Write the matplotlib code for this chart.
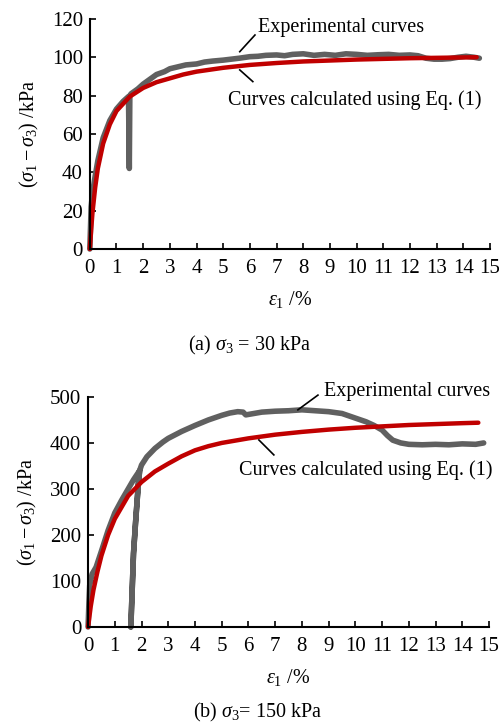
import matplotlib
matplotlib.use("Agg")
import matplotlib.pyplot as plt

plt.rcParams['font.family'] = ['Liberation Serif', 'DejaVu Serif']
plt.rcParams['mathtext.fontset'] = 'custom'
plt.rcParams['mathtext.rm'] = 'Liberation Serif'
plt.rcParams['mathtext.it'] = 'Liberation Serif:italic'

# ---- Panel (a): sigma3 = 30 kPa ----
a_exp_x = [0, 0.05, 0.1, 0.2, 0.3, 0.5, 0.75, 1.0, 1.25, 1.45, 1.48, 1.5, 1.55, 1.8, 2.0, 2.2,
           2.5, 2.8, 3.0, 3.3, 3.6, 4.0, 4.3, 4.6, 5.0, 5.3, 5.6, 6.0, 6.3, 6.6, 7.0, 7.3,
           7.6, 8.0, 8.4, 8.8, 9.2, 9.6, 10.0, 10.4, 10.8, 11.2, 11.6, 12.0, 12.3, 12.6,
           12.9, 13.2, 13.5, 13.8, 14.1, 14.4, 14.6]
a_exp_y = [0, 22, 29, 38, 46, 58, 67, 73, 77, 79.5, 42, 80, 81, 83.5, 86, 88,
           91, 92.5, 94, 95, 96, 96.5, 97.5, 98, 98.5, 99, 99.5, 100.3, 100.5, 101, 101.2, 100.8,
           101.5, 101.8, 101, 101.5, 101, 101.8, 101.5, 101, 101.3, 101.5, 101, 101.2, 100.8, 99.5,
           99, 99, 99.3, 100, 100.5, 100, 99.5]
a_fit_x = [0, 0.05, 0.1, 0.2, 0.3, 0.5, 0.75, 1, 1.5, 2, 2.5, 3, 3.5, 4, 5, 6, 7, 8, 10, 12, 14.5]
a_fit_y = [0, 10, 19, 32, 42, 55, 65, 72, 79.5, 84, 87, 89, 91, 92.5, 94.5, 96, 97, 97.8, 98.8, 99.5, 100]

# ---- Panel (b): sigma3 = 150 kPa ----
b_exp_x = [0, 0.03, 0.06, 0.15, 0.3, 0.5, 0.75, 1.0, 1.25, 1.5, 1.7, 1.93,
           1.88, 1.83, 1.78, 1.70, 1.60, 1.70, 1.78, 1.83, 1.88, 1.93,
           2.0, 2.2, 2.5, 2.8, 3.0, 3.5, 4.0, 4.5, 5.0, 5.3, 5.6, 5.8, 5.9, 6.1, 6.5,
           7.0, 7.5, 8.0, 8.5, 9.0, 9.5, 9.8, 10.1, 10.4, 10.7, 11.0, 11.2, 11.4, 11.7,
           12.0, 12.5, 13.0, 13.5, 14.0, 14.5, 14.8]
b_exp_y = [0, 50, 90, 115, 130, 165, 210, 248, 275, 300, 320, 340,
           310, 270, 230, 160, 0, 160, 230, 270, 310, 340,
           352, 370, 388, 402, 410, 425, 438, 450, 460, 465, 468, 467, 461, 463, 467,
           469, 470, 472, 470, 468, 464, 458, 452, 446, 438, 428, 416, 406, 400,
           397, 396, 397, 396, 398, 397, 400]
b_fit_x = [0, 0.1, 0.2, 0.35, 0.5, 0.75, 1, 1.5, 2, 2.5, 3, 3.5, 4, 4.5, 5, 6, 7, 8, 9, 10,
           11, 12, 13, 14, 14.6]
b_fit_y = [0, 45, 80, 120, 155, 200, 235, 285, 315, 338, 355, 371, 384, 393, 400, 410, 418,
           424, 429, 433, 436, 439, 441, 443, 444]

xticks = list(range(0, 16))
a_yticks = [0, 20, 40, 60, 80, 100, 120]
b_yticks = [0, 100, 200, 300, 400, 500]

GREY = '#606060'
RED = '#c00000'
FS = 14.5
TFS = 15

fig = plt.figure(figsize=(4.99, 7.27), dpi=100)
ax1 = fig.add_axes([0.180, 0.6575, 0.802, 0.3165])
ax2 = fig.add_axes([0.1765, 0.1376, 0.8035, 0.3164])

def style(ax, yticks, ymax):
    ax.set_xlim(0, 15)
    ax.set_ylim(0, ymax)
    ax.set_xticks(xticks)
    ax.set_yticks(yticks)
    for s in ['top', 'right']:
        ax.spines[s].set_visible(False)
    for s in ['left', 'bottom']:
        ax.spines[s].set_linewidth(1.5)
    ax.tick_params(direction='in', length=4, width=1.2, labelsize=TFS)
    ax.tick_params(axis='x', pad=7)
    ax.tick_params(axis='y', pad=5)
    ax.set_ylabel(r'$(\sigma_1-\sigma_3)$ /kPa', fontsize=FS, labelpad=8)
    ax.set_xlabel(r'$\varepsilon_1$ /%', fontsize=FS, labelpad=8)

# Panel (a)
ax1.plot(a_exp_x, a_exp_y, color=GREY, lw=4.0, solid_capstyle='round', solid_joinstyle='round', clip_on=False)
ax1.plot(a_fit_x, a_fit_y, color=RED, lw=3.2, solid_capstyle='round', clip_on=False)
style(ax1, a_yticks, 120)
ax1.plot([6.19, 5.62], [111.6, 102.9], color='black', lw=1.2)
ax1.plot([5.62, 6.11], [93.4, 87.3], color='black', lw=1.2)
ax1.text(6.3, 115.3, 'Experimental curves', fontsize=FS, va='center', ha='left')
ax1.text(5.17, 77.7, 'Curves calculated using Eq. (1)', fontsize=FS, va='center', ha='left')

# Panel (b)
ax2.plot(b_exp_x, b_exp_y, color=GREY, lw=4.0, solid_capstyle='round', solid_joinstyle='round', clip_on=False)
ax2.plot(b_fit_x, b_fit_y, color=RED, lw=3.2, solid_capstyle='round', clip_on=False)
style(ax2, b_yticks, 500)
ax2.plot([8.6, 7.85], [504, 472], color='black', lw=1.2, clip_on=False)
ax2.plot([6.39, 6.95], [406.5, 374], color='black', lw=1.2)
ax2.text(8.83, 511, 'Experimental curves', fontsize=FS, va='center', ha='left')
ax2.text(5.64, 341, 'Curves calculated using Eq. (1)', fontsize=FS, va='center', ha='left')

fig.text(250 / 499, 1 - 345 / 727, r'(a) $\sigma_3$ = 30 kPa', fontsize=FS, ha='center', va='center')
fig.text(258 / 499, 1 - 712 / 727, r'(b) $\sigma_3$= 150 kPa', fontsize=FS, ha='center', va='center')

fig.savefig('out.png', dpi=100)
